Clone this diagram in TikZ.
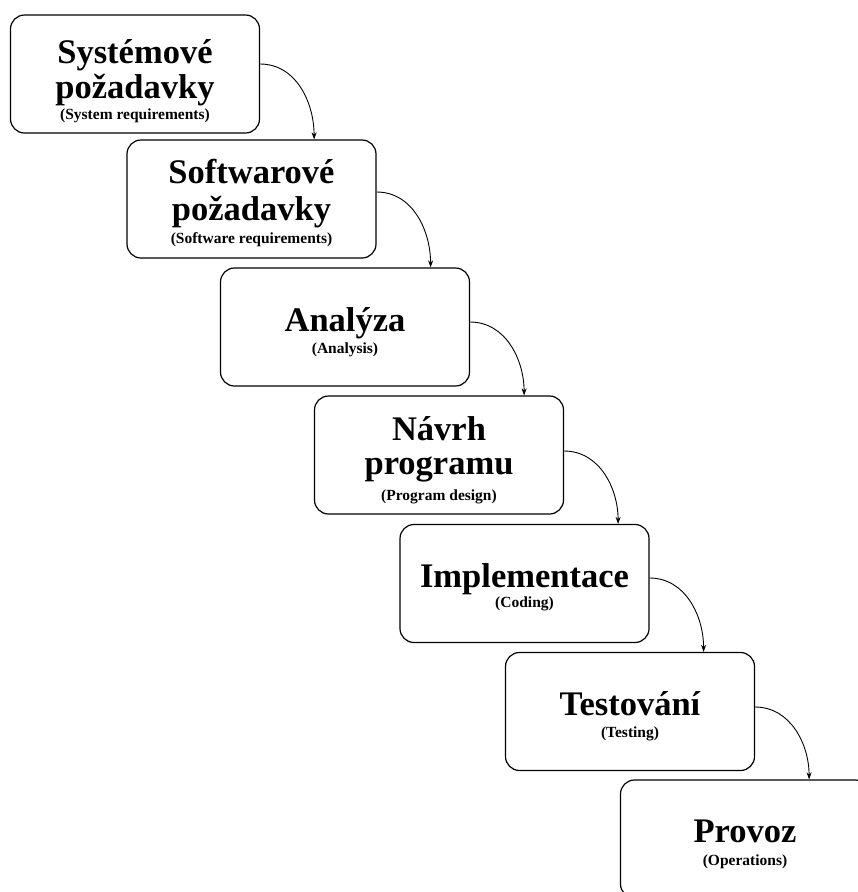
\documentclass[tikz,border=0pt]{standalone}
\usepackage{fontspec}
\setmainfont{Liberation Serif}
\usetikzlibrary{arrows.meta,calc}
\begin{document}
\begin{tikzpicture}[x=1pt,y=-1pt,
  stage/.style={draw, line width=1.2pt, rounded corners=14pt, minimum width=249pt, minimum height=118pt, inner sep=0pt},
  ttl/.style={anchor=base, inner sep=0pt, font=\fontsize{34.5}{34.5}\selectfont\bfseries},
  sub/.style={anchor=base, inner sep=0pt, font=\fontsize{15.5}{15.5}\selectfont\bfseries},
  flow/.style={-{Stealth[length=7pt,width=5pt]}, line width=0.9pt}]
\clip (0,0) rectangle (858,892);
\fill[white] (0,0) rectangle (858,892);
% boxes
\node[stage] (b1) at (135,74) {};
\node[stage] (b2) at (251.5,199) {};
\node[stage] (b3) at (345,327) {};
\node[stage] (b4) at (439,455) {};
\node[stage] (b5) at (524.5,583.5) {};
\node[stage] (b6) at (630,711.5) {};
\node[stage] (b7) at (745,839) {};
% texts
\node[ttl] (t1a) at (135,63) {Systémové};
\node[ttl] (t1b) at (135,98) {požadavky};
\node[sub] (s1) at (135,119) {(System requirements)};
\node[ttl] (t2a) at (251.5,183) {Softwarové};
\node[ttl] (t2b) at (251.5,220) {požadavky};
\node[sub] (s2) at (251.5,243) {(Software requirements)};
\node[ttl] (t3a) at (345,331) {Analýza};
\node[sub] (s3) at (345,353) {(Analysis)};
\node[ttl] (t4a) at (439,440) {Návrh};
\node[ttl] (t4b) at (439,474) {programu};
\node[sub] (s4) at (439,500) {(Program design)};
\node[ttl] (t5a) at (524.5,587) {Implementace};
\node[sub] (s5) at (524.5,607) {(Coding)};
\node[ttl] (t6a) at (630,715) {Testování};
\node[sub] (s6) at (630,737) {(Testing)};
\node[ttl] (t7a) at (745,842) {Provoz};
\node[sub] (s7) at (745,865) {(Operations)};
% connectors
\foreach \a/\b/\dy in {b1/b2/10, b2/b3/7, b3/b4/5, b4/b5/4, b5/b6/5.5, b6/b7/4.5}{
  \coordinate (\a x) at ([xshift=54pt]\a.east);
  \draw[flow] ([yshift=\dy pt]\a.east) to[out=0,in=90] (\b.north -| \a x);
}
\end{tikzpicture}
\end{document}
